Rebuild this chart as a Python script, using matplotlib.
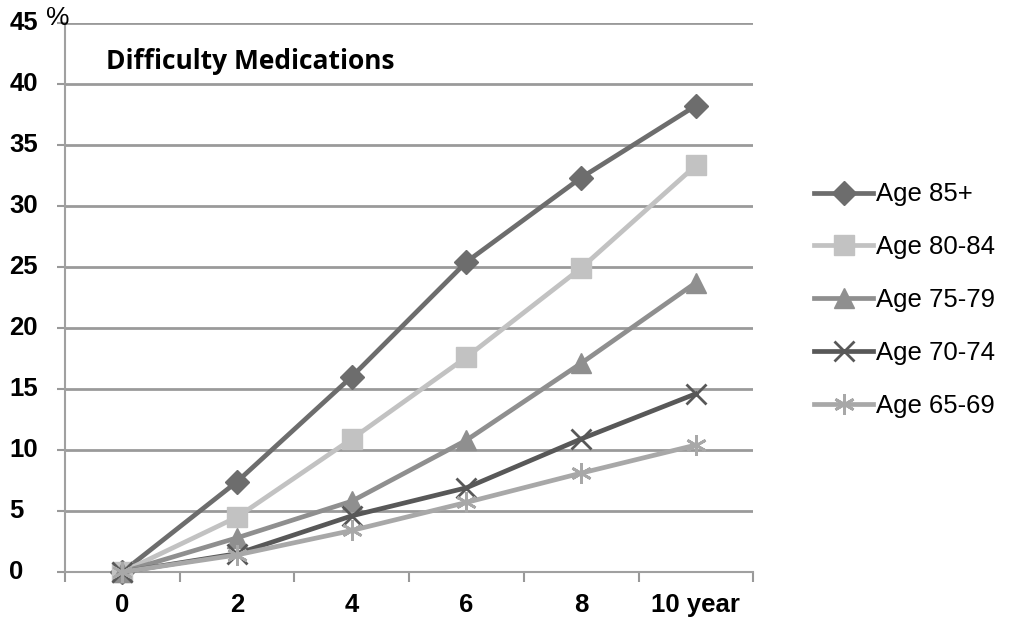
import numpy as np
import matplotlib
matplotlib.use('Agg')
import matplotlib.pyplot as plt
from matplotlib.ticker import FixedLocator
from matplotlib.transforms import blended_transform_factory

# categories along the x axis
years = ['0', '2', '4', '6', '8', '10 year']

# series values (% with difficulty taking medications)
age_85 = [0, 7.4, 16.0, 25.4, 32.3, 38.2]
age_80_84 = [0, 4.5, 10.9, 17.6, 24.9, 33.3]
age_75_79 = [0, 2.8, 5.8, 10.8, 17.1, 23.7]
age_70_74 = [0, 1.5, 4.6, 6.9, 10.9, 14.6]
age_65_69 = [0, 1.4, 3.4, 5.7, 8.1, 10.4]

y_ticks = [0, 5, 10, 15, 20, 25, 30, 35, 40, 45]

series = [
    ('Age 85+', age_85, '#6d6d6d', 'D', 12),
    ('Age 80-84', age_80_84, '#c2c2c2', 's', 14),
    ('Age 75-79', age_75_79, '#8f8f8f', '^', 15),
    ('Age 70-74', age_70_74, '#585858', 'x', 14),
    ('Age 65-69', age_65_69, '#a8a8a8', (6, 2, 0), 15),
]

plt.rcParams['font.family'] = ['Liberation Sans', 'DejaVu Sans']

fig = plt.figure(figsize=(10.18, 6.25), dpi=100)
ax = fig.add_axes([0.0639, 0.0848, 0.676, 0.879])

x = np.arange(len(years))
for label, vals, color, marker, ms in series:
    ax.plot(x, vals, color=color, lw=3.4, marker=marker, ms=ms,
            mew=2 if marker in ('x', (6, 2, 0)) else 1,
            mec=color, mfc=color, label=label, zorder=3, clip_on=False)

ax.set_xlim(-0.5, 5.5)
ax.set_ylim(0, 45)

# category axis: labels at centers, tick marks at boundaries
ax.set_xticks(x)
ax.set_xticklabels(years, fontsize=18.5, fontweight='bold')
ax.xaxis.set_minor_locator(FixedLocator(np.arange(-0.5, 6, 1)))
ax.tick_params(axis='x', which='major', length=0, pad=15)
ax.tick_params(axis='x', which='minor', length=7, width=1.5, color='#999999', direction='out')

# y tick labels drawn left aligned near the figure edge
ax.set_yticks(y_ticks)
ax.set_yticklabels([])
ax.tick_params(axis='y', length=6, width=1.5, color='#999999')
ytrans = blended_transform_factory(fig.transFigure, ax.transData)
for v in y_ticks:
    ax.text(0.009, v, str(v), transform=ytrans, fontsize=18.5, fontweight='bold',
            ha='left', va='center')
ax.text(0.045, 45.4, '%', transform=ytrans, fontsize=19, ha='left', va='center')

ax.grid(axis='y', color='#9a9a9a', lw=2)
ax.set_axisbelow(True)
for s in ['top', 'right']:
    ax.spines[s].set_visible(False)
ax.spines['left'].set_color('#a0a0a0')
ax.spines['left'].set_linewidth(1.5)
ax.spines['bottom'].set_color('#a0a0a0')
ax.spines['bottom'].set_linewidth(1.5)

ax.text(0.06, 0.929, 'Difficulty Medications', transform=ax.transAxes,
        fontsize=19, fontweight='bold', family=['Open Sans', 'DejaVu Sans'],
        ha='left', va='center')

fig.legend(loc='upper left', bbox_to_anchor=(0.777, 0.745), frameon=False,
           fontsize=18.5, handlelength=2.3, handletextpad=0.1, labelspacing=1.12)

fig.savefig('out.png', dpi=100)
